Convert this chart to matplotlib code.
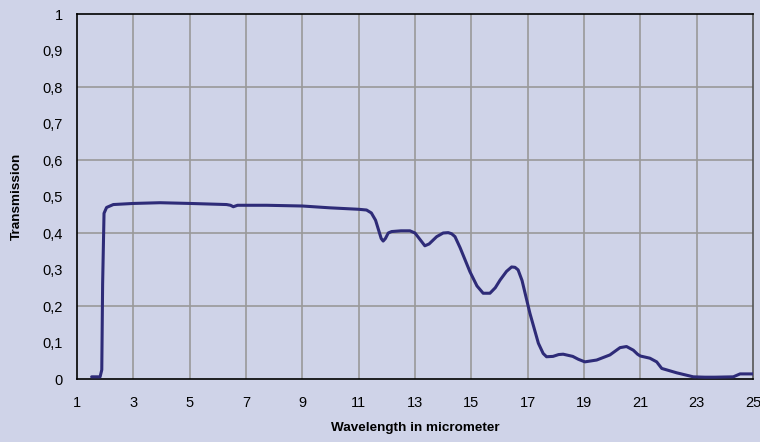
import numpy as np
import matplotlib.pyplot as plt

plt.rcParams['font.family'] = ['Liberation Sans', 'DejaVu Sans']
plt.rcParams['axes.grid'] = False

# transmission curve
wavelength = [1.52, 1.82, 1.88, 1.91, 1.96, 2.05, 2.29, 3.0, 3.95, 5.01, 6.31, 6.45, 6.55, 6.7, 7.02,
              7.73, 9.0, 9.98, 11.0, 11.28, 11.45, 11.6, 11.7, 11.8, 11.87, 11.95, 12.05, 12.17,
              12.5, 12.82, 13.0, 13.15, 13.35, 13.5, 13.77, 14.0, 14.18, 14.3, 14.42, 14.6, 14.95,
              15.2, 15.42, 15.66, 15.85, 16.02, 16.25, 16.43, 16.55, 16.66, 16.8, 17.08, 17.38,
              17.55, 17.67, 17.9, 18.1, 18.26, 18.6, 18.8, 19.03, 19.45, 19.92, 20.1, 20.28, 20.51,
              20.75, 20.9, 21.0, 21.34, 21.58, 21.76, 22.29, 22.88, 23.29, 23.65, 24.3, 24.54, 25.0]
transmission = [0.006, 0.006, 0.025, 0.26, 0.454, 0.47, 0.478, 0.481, 0.483, 0.481, 0.478, 0.476,
                0.472, 0.476, 0.476, 0.476, 0.474, 0.469, 0.465, 0.463, 0.455, 0.435, 0.41, 0.385,
                0.378, 0.385, 0.4, 0.404, 0.406, 0.406, 0.4, 0.385, 0.365, 0.37, 0.39, 0.4, 0.401,
                0.398, 0.39, 0.36, 0.294, 0.255, 0.235, 0.235, 0.25, 0.271, 0.295, 0.307, 0.306,
                0.299, 0.27, 0.18, 0.098, 0.07, 0.061, 0.062, 0.067, 0.068, 0.062, 0.054, 0.047,
                0.052, 0.066, 0.076, 0.086, 0.089, 0.079, 0.068, 0.063, 0.057, 0.047, 0.029, 0.017,
                0.006, 0.005, 0.005, 0.006, 0.014, 0.014]

x_ticks = list(range(1, 26, 2))
y_ticks = [round(v * 0.1, 1) for v in range(11)]
y_labels = ['0'] + [f'0,{i}' for i in range(1, 10)] + ['1']
grid_y = [0.2, 0.4, 0.6, 0.8]

bg = '#CFD3E8'
fig = plt.figure(figsize=(7.6, 4.42), dpi=100, facecolor=bg)
ax = fig.add_axes([0.1013, 0.1425, 0.8895, 0.8258], facecolor=bg)

ax.plot(wavelength, transmission, color='#2E2B78', lw=2.2, zorder=3,
        solid_joinstyle='round', solid_capstyle='round')

ax.set_xlim(1, 25)
ax.set_ylim(0, 1)
ax.set_xticks(x_ticks)
ax.set_yticks(y_ticks)
ax.set_yticklabels(y_labels)
ax.grid(False, which='both')
ax.tick_params(length=0, labelsize=10.5, colors='black')
ax.tick_params(axis='x', pad=12)
ax.tick_params(axis='y', pad=10)

# gridlines: vertical at odd wavelengths, horizontal every 0.2
for xv in x_ticks[1:-1]:
    ax.axvline(xv, color='#999999', lw=1.2, zorder=1)
for yv in grid_y:
    ax.axhline(yv, color='#999999', lw=1.2, zorder=1)

for s in ['left', 'bottom', 'top']:
    ax.spines[s].set_color('black')
    ax.spines[s].set_linewidth(1.2)
ax.spines['right'].set_color('#555555')
ax.spines['right'].set_linewidth(1.2)

ax.set_xlabel('Wavelength in micrometer', fontsize=9.7, fontweight='bold', labelpad=9)
ax.set_ylabel('Transmission', fontsize=9.7, fontweight='bold', labelpad=14)

fig.savefig('out.png', dpi=100, facecolor=bg)
